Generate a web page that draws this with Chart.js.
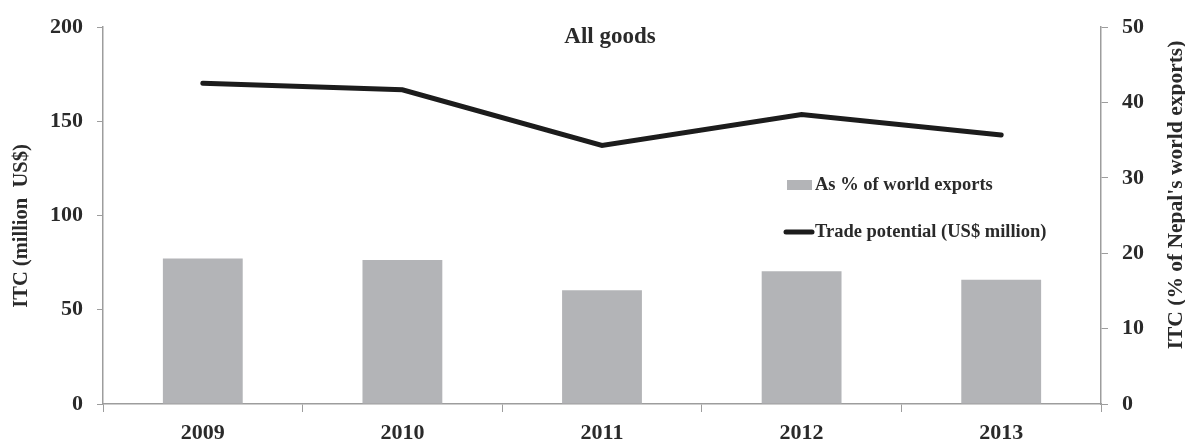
<!DOCTYPE html>
<html>
<head>
<meta charset="utf-8">
<script src="https://cdn.jsdelivr.net/npm/chart.js@4.4.1/dist/chart.umd.min.js"></script>
<style>
  html, body { margin: 0; padding: 0; background: #fff; }
  #wrap { width: 1185px; height: 443px; position: relative; }
</style>
</head>
<body>
<div id="wrap"><canvas id="c"></canvas></div>
<script>
const years = ['2009', '2010', '2011', '2012', '2013'];
const sharePct = [19.3, 19.1, 15.1, 17.6, 16.5];          // As % of world exports (right axis)
const tradePotential = [170.3, 166.8, 137.2, 153.7, 142.8]; // US$ million (left axis)
const leftTicks = [0, 50, 100, 150, 200];
const rightTicks = [0, 10, 20, 30, 40, 50];

const serif = '"Liberation Serif", "Times New Roman", serif';
const textColor = '#2a2a2a';
const axisColor = '#9d9d9d';

// title, legend and axis titles drawn straight on the canvas
const overlayText = {
    id: 'overlayText',
    afterDraw(chart) {
        const ctx = chart.ctx;
        ctx.save();
        ctx.fillStyle = textColor;
        ctx.textBaseline = 'middle';

        ctx.font = 'bold 23px ' + serif;
        ctx.textAlign = 'center';
        ctx.fillText('All goods', 610, 37);

        // legend
        ctx.fillStyle = '#b3b4b7';
        ctx.fillRect(787, 180, 25, 10);
        ctx.strokeStyle = '#1c1c1c';
        ctx.lineWidth = 5;
        ctx.lineCap = 'round';
        ctx.beginPath();
        ctx.moveTo(786, 232);
        ctx.lineTo(812, 232);
        ctx.stroke();

        ctx.fillStyle = textColor;
        ctx.textAlign = 'left';
        ctx.font = 'bold 18.5px ' + serif;
        ctx.fillText('As % of world exports', 815, 185);
        ctx.fillText('Trade potential (US$ million)', 815, 232);

        // axis titles
        ctx.font = 'bold 20.5px ' + serif;
        ctx.textAlign = 'center';
        ctx.translate(22, 226);
        ctx.rotate(-Math.PI / 2);
        ctx.fillText('ITC (million  US$)', 0, 0);
        ctx.restore();

        ctx.save();
        ctx.fillStyle = textColor;
        ctx.textBaseline = 'middle';
        ctx.textAlign = 'center';
        ctx.font = 'bold 21.5px ' + serif;
        ctx.translate(1176, 195);
        ctx.rotate(-Math.PI / 2);
        ctx.fillText("ITC (% of Nepal's world exports)", 0, 0);
        ctx.restore();
    }
};

new Chart(document.getElementById('c'), {
    type: 'bar',
    data: {
        labels: years,
        datasets: [{
            type: 'line',
            label: 'Trade potential (US$ million)',
            data: tradePotential,
            yAxisID: 'y',
            borderColor: '#1c1c1c',
            borderWidth: 5,
            borderCapStyle: 'round',
            pointRadius: 0,
            tension: 0,
            order: 0
        }, {
            type: 'bar',
            label: 'As % of world exports',
            data: sharePct,
            yAxisID: 'y1',
            backgroundColor: '#b3b4b7',
            categoryPercentage: 1,
            barPercentage: 0.4,
            order: 1
        }]
    },
    options: {
        responsive: true,
        maintainAspectRatio: false,
        animation: false,
        layout: { padding: { top: 25, left: 0, right: 0, bottom: 0 } },
        plugins: {
            legend: { display: false },
            tooltip: { enabled: false }
        },
        scales: {
            x: {
                afterFit: s => { s.height = 39; },
                grid: { offset: true, drawOnChartArea: false, color: axisColor, tickLength: 8 },
                border: { color: axisColor, width: 1.5 },
                ticks: { color: textColor, padding: 8, font: { family: serif, size: 22, weight: 'bold' } }
            },
            y: {
                position: 'left',
                min: 0,
                max: 200,
                afterFit: s => { s.width = 103; },
                afterBuildTicks: s => { s.ticks = leftTicks.map(v => ({ value: v })); },
                grid: { drawOnChartArea: false, color: axisColor, tickLength: 6 },
                border: { color: axisColor, width: 1.5 },
                ticks: { color: textColor, padding: 14, font: { family: serif, size: 22, weight: 'bold' } }
            },
            y1: {
                position: 'right',
                min: 0,
                max: 50,
                afterFit: s => { s.width = 84; },
                afterBuildTicks: s => { s.ticks = rightTicks.map(v => ({ value: v })); },
                grid: { drawOnChartArea: false, color: axisColor, tickLength: 7 },
                border: { color: axisColor, width: 1.5 },
                ticks: { color: textColor, padding: 14, font: { family: serif, size: 22, weight: 'bold' } }
            }
        }
    },
    plugins: [overlayText]
});
</script>
</body>
</html>
